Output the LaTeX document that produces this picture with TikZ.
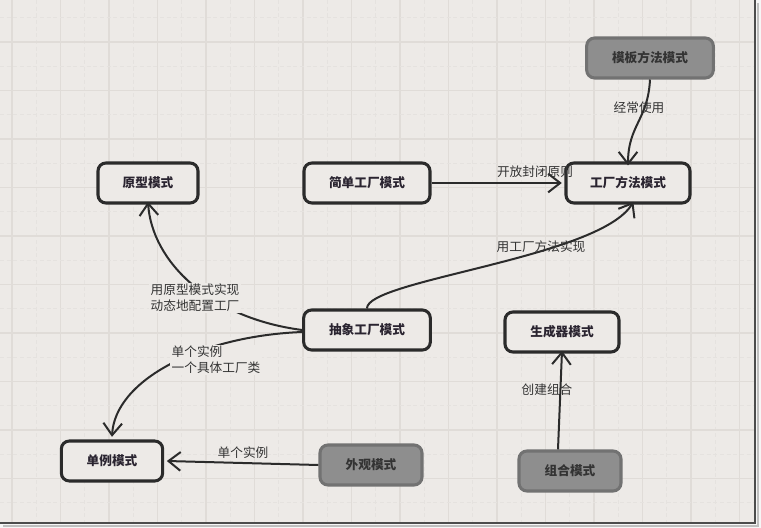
\documentclass[tikz,border=0pt]{standalone}
\usepackage{fontspec}
\newfontfamily\cjk{Noto Sans CJK SC}
\usetikzlibrary{arrows.meta}
\definecolor{bgc}{HTML}{EDEAE7}
\definecolor{outc}{HTML}{F6F6F6}
\definecolor{gridc}{HTML}{E0DCD8}
\definecolor{gridm}{HTML}{E5E2DF}
\definecolor{boxline}{HTML}{2B2B2B}
\definecolor{grayfill}{HTML}{8E8E8E}
\definecolor{grayline}{HTML}{727272}
\definecolor{txt}{HTML}{2A2430}
\tikzset{
  pat/.style={draw=boxline, line width=2.3pt, rounded corners=6pt, fill=bgc,
    minimum height=30pt, inner sep=0pt, font=\cjk\fontsize{9.5}{11}\selectfont\bfseries, text=txt},
  gpat/.style={pat, draw=grayline, fill=grayfill, text=black!80},
  arr/.style={draw=boxline, line width=1.5pt, -{Straight Barb[length=9pt,width=14pt,line width=1.5pt]}},
  lbl/.style={font=\cjk\fontsize{9.5}{12}\selectfont, text=black!80, inner sep=1pt},
  lblf/.style={lbl, fill=bgc, align=left}
}
\begin{document}
\begin{tikzpicture}[x=0.75pt,y=-0.75pt]
\useasboundingbox (0,0) rectangle (761,528);
\fill[outc] (0,0) rectangle (761,528);
\fill[bgc] (0,0) rectangle (755,523);
% grid
\foreach \i in {0,...,15} {
  \draw[gridc, line width=0.8pt] (12+48.5*\i,0) -- (12+48.5*\i,523);
  \draw[gridm, line width=0.8pt, dash pattern=on 3pt off 2pt] (36.25+48.5*\i,0) -- (36.25+48.5*\i,523);
}
\foreach \j in {0,...,10} {
  \draw[gridc, line width=0.8pt] (0,-6.5+48.5*\j) -- (755,-6.5+48.5*\j);
  \draw[gridm, line width=0.8pt, dash pattern=on 3pt off 2pt] (0,17.75+48.5*\j) -- (755,17.75+48.5*\j);
}
\fill[bgc] (0,522) rectangle (755,523);
% frame with shadow
\draw[black!25, line width=1.5pt] (758,3) -- (758,526) -- (3,526);
\draw[black!70, line width=1.5pt] (755,0) -- (755,523) -- (0,523);

% nodes
\node[pat, minimum width=75pt]   (yx)  at (148,183) {原型模式};
\node[pat, minimum width=94.5pt] (jd)  at (367,183) {简单工厂模式};
\node[pat, minimum width=93pt]   (gf)  at (628,183) {工厂方法模式};
\node[gpat, minimum width=95pt]  (mb)  at (650,58)  {模板方法模式};
\node[pat, minimum width=95pt]   (cx)  at (367,330) {抽象工厂模式};
\node[pat, minimum width=85.5pt] (scq) at (562,332) {生成器模式};
\node[pat, minimum width=76pt]   (dl)  at (112,461) {单例模式};
\node[gpat, minimum width=76.5pt](wg)  at (371,465) {外观模式};
\node[gpat, minimum width=76.5pt](zh)  at (570,471) {组合模式};

% edges
\draw[arr] (mb.south) .. controls (648,120) and (628,125) .. ([yshift=-3pt]gf.north);
\node[lbl] (l1) at (639,108) {经常使用};

\draw[arr] (jd.east) -- ([xshift=-2pt]gf.west);
\node[lbl] (l2) at (535,172) {开放封闭原则};

\draw[arr] (cx.north) .. controls (366,280) and (600,258) .. ([xshift=4pt,yshift=2pt]gf.south);
\node[lbl] (l3) at (541,247) {用工厂方法实现};

\draw[arr] (cx.west) .. controls (210,318) and (152,262) .. ([yshift=2pt]yx.south);
\node[lblf] (l4) at (195,298) {用原型模式实现\\动态地配置工厂};

\draw[arr] ([yshift=-1.5pt]cx.west) .. controls (200,336) and (115,380) .. ([yshift=2pt]dl.north);
\node[lblf] (l5) at (216,360) {单个实例\\一个具体工厂类};

\draw[arr] (wg.west) -- ([xshift=2pt]dl.east);
\node[lbl] (l6) at (243,453) {单个实例};

\draw[arr] ([xshift=-9pt]zh.north) -- ([yshift=2pt]scq.south);
\node[lbl] (l7) at (547,390) {创建组合};
\end{tikzpicture}
\end{document}
